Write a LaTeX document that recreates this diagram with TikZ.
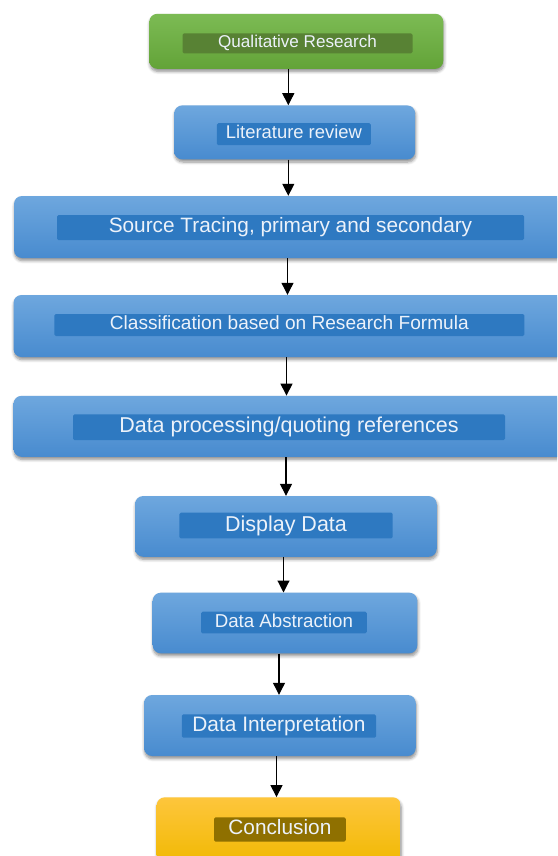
\documentclass[tikz,border=0pt]{standalone}
\usepackage{fontspec}
\setmainfont{Liberation Sans}
\usetikzlibrary{shadows.blur,arrows.meta}

\definecolor{blueT}{RGB}{110,167,222}
\definecolor{blueB}{RGB}{72,139,207}
\definecolor{blueTag}{RGB}{46,121,193}
\definecolor{greenT}{RGB}{124,187,84}
\definecolor{greenB}{RGB}{99,163,56}
\definecolor{greenTag}{RGB}{88,130,52}
\definecolor{goldT}{RGB}{254,198,60}
\definecolor{goldB}{RGB}{240,184,0}
\definecolor{goldTag}{RGB}{143,112,0}
\definecolor{tagText}{RGB}{236,242,250}

\begin{document}
\begin{tikzpicture}[x=1pt,y=-1pt,
  box/.style={draw=none, rounded corners=8pt, inner sep=0pt,
    blur shadow={shadow xshift=0.6pt, shadow yshift=-2.6pt,
      shadow blur steps=6, shadow blur radius=3pt, shadow opacity=45}},
  bluebox/.style={box, top color=blueT, bottom color=blueB},
  greenbox/.style={box, top color=greenT, bottom color=greenB},
  goldbox/.style={box, top color=goldT, bottom color=goldB},
  tag/.style={inner sep=0pt, rounded corners=1.5pt, text=tagText, text depth=0pt},
  bluetag/.style={tag, fill=blueTag},
  greentag/.style={tag, fill=greenTag},
  goldtag/.style={tag, fill=goldTag},
  % font size in pt; text height chosen so the capitals sit a little above the middle
  fs/.code={%
    \pgfmathsetmacro\tagth{0.716*#1-4}%
    \edef\tagset{\noexpand\tikzset{font=\noexpand\fontsize{#1}{#1}\noexpand\selectfont,
      text height=\tagth pt}}%
    \tagset},
  arr/.style={draw=black, line width=1.1pt,
    -{Triangle[width=12pt,length=12pt]}}
]
\useasboundingbox (0,0) rectangle (557,856);
\clip (0,0) rectangle (557,856);

% step boxes
\node[greenbox, minimum width=294, minimum height=55] (b1) at (296.3,41.3) {};
\node[greentag, minimum width=230, minimum height=20, fs=17.1] (t1) at (297.5,43.3) {Qualitative Research};

\node[bluebox, minimum width=241, minimum height=54] (b2) at (294.7,132.4) {};
\node[bluetag, minimum width=154, minimum height=22, fs=18.4] (t2) at (293.9,134.2) {Literature review};

\node[bluebox, minimum width=600, minimum height=62] (b3) at (314,227) {};
\node[bluetag, minimum width=467, minimum height=25, fs=20.8] (t3) at (290.5,227.5) {Source Tracing, primary and secondary};

\node[bluebox, minimum width=600, minimum height=62] (b4) at (313.5,326) {};
\node[bluetag, minimum width=470, minimum height=22, fs=19.1] (t4) at (289.3,325) {Classification based on Research Formula};

\node[bluebox, minimum width=600, minimum height=61] (b5) at (313.5,426.3) {};
\node[bluetag, minimum width=432, minimum height=25.7, fs=21.5] (t5) at (289,427.2) {Data processing/quoting references};

\node[bluebox, minimum width=301.7, minimum height=60.7] (b6) at (285.9,526.4) {};
\node[bluetag, minimum width=213.4, minimum height=25.6, fs=21.5] (t6) at (286,525.5) {Display Data};

\node[bluebox, minimum width=264.6, minimum height=60.6] (b7) at (285,623) {};
\node[bluetag, minimum width=165.7, minimum height=21.6, fs=18.7] (t7) at (283.9,622.5) {Data Abstraction};

\node[bluebox, minimum width=271.7, minimum height=61] (b8) at (279.9,725.5) {};
\node[bluetag, minimum width=194.3, minimum height=23.4, fs=20.9] (t8) at (278.9,726) {Data Interpretation};

\node[goldbox, minimum width=244, minimum height=70] (b9) at (278.7,832.3) {};
\node[goldtag, minimum width=131.7, minimum height=24.4, fs=20.8] (t9) at (279.9,829.5) {Conclusion};

% connectors
\draw[arr] (b1.south -| 288.3,0) -- (b2.north -| 288.3,0);
\draw[arr] (b2.south -| 288.3,0) -- (b3.north -| 288.3,0);
\draw[arr] (b3.south -| 287.5,0) -- (b4.north -| 287.5,0);
\draw[arr] (b4.south -| 286.5,0) -- (b5.north -| 286.5,0);
\draw[arr] (b5.south -| 286,0) -- (b6.north -| 286,0);
\draw[arr] (b6.south -| 283.5,0) -- (b7.north -| 283.5,0);
\draw[arr] (b7.south -| 279,0) -- (b8.north -| 279,0);
\draw[arr] (b8.south -| 276.5,0) -- (b9.north -| 276.5,0);
\end{tikzpicture}
\end{document}
